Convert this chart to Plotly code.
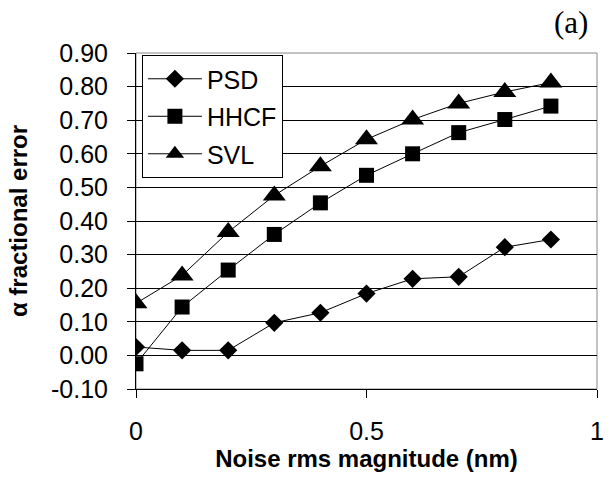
import plotly.graph_objects as go

noise = [0.0, 0.1, 0.2, 0.3, 0.4, 0.5, 0.6, 0.7, 0.8, 0.9]
psd = [0.025, 0.015, 0.015, 0.097, 0.127, 0.184, 0.228, 0.234, 0.322, 0.345]
hhcf = [-0.025, 0.144, 0.254, 0.360, 0.454, 0.536, 0.600, 0.663, 0.702, 0.742]
svl = [0.155, 0.238, 0.367, 0.476, 0.563, 0.643, 0.702, 0.750, 0.784, 0.812]

y_ticks = [-0.1, 0.0, 0.1, 0.2, 0.3, 0.4, 0.5, 0.6, 0.7, 0.8, 0.9]
y_labels = ["-0.10", "0.00", "0.10", "0.20", "0.30", "0.40", "0.50", "0.60", "0.70", "0.80", "0.90"]
x_ticks = [0, 0.5, 1]
x_labels = ["0", "0.5", "1"]

series = [
    ("PSD", psd, "diamond", 14),
    ("HHCF", hhcf, "square", 15),
    ("SVL", svl, "triangle-up", 20),
]

fig = go.Figure()
for name, vals, sym, size in series:
    fig.add_trace(go.Scatter(
        x=noise, y=vals, name=name, mode="lines+markers",
        line=dict(color="black", width=1),
        marker=dict(symbol=sym, size=size, color="black"),
        legendgroup=name,
    ))

fig.update_layout(
    width=611, height=482,
    margin=dict(l=136, r=7, t=53, b=93),
    paper_bgcolor="white", plot_bgcolor="white",
    font=dict(family="Liberation Sans, Arial, sans-serif", color="black", size=25),
    showlegend=True,
    legend=dict(
        x=0.0128, y=0.994, xanchor="left", yanchor="top",
        bordercolor="black", borderwidth=1, bgcolor="white",
        font=dict(size=25), traceorder="grouped", tracegroupgap=2,
        itemwidth=54,
    ),
    shapes=[dict(type="rect", xref="x domain", yref="y domain", x0=0, x1=1, y0=0, y1=1,
                 line=dict(color="#888888", width=1), layer="below")],
    annotations=[dict(text="(a)", xref="paper", yref="paper", x=0.985, y=1.092,
                      xanchor="right", yanchor="middle", showarrow=False,
                      font=dict(family="Liberation Serif, Times New Roman, serif", size=31))],
)

fig.update_xaxes(
    range=[0, 1], tickvals=x_ticks, ticktext=x_labels,
    showgrid=False, zeroline=False, showline=True, linecolor="black", linewidth=1,
    ticks="outside", ticklen=8, tickcolor="black", ticklabelstandoff=12,
    title=dict(text="<b>Noise rms magnitude (nm)</b>", font=dict(size=24), standoff=2),
)
fig.update_yaxes(
    range=[-0.1, 0.9], tickvals=y_ticks, ticktext=y_labels,
    showgrid=True, gridcolor="black", gridwidth=1,
    zeroline=True, zerolinecolor="black", zerolinewidth=1,
    showline=True, linecolor="black", linewidth=1,
    ticks="outside", ticklen=8, tickcolor="black", ticklabelstandoff=14,
    title=dict(text="<b>α fractional error</b>", font=dict(size=24), standoff=16),
)

fig.write_html("out.html")
